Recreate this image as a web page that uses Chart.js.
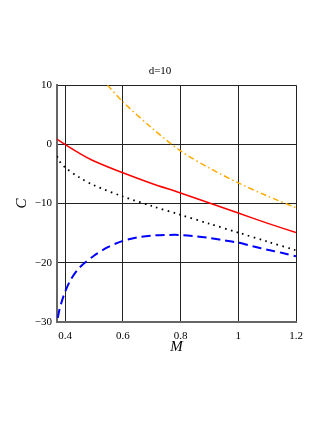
<!DOCTYPE html>
<html>
<head>
<meta charset="utf-8">
<script src="https://cdn.jsdelivr.net/npm/chart.js@4/dist/chart.umd.min.js"></script>
<style>
  html, body { margin: 0; padding: 0; background: #fff; }
</style>
</head>
<body>
<canvas id="chart" width="327" height="423"></canvas>
<script>
// values
let mRed = [0.372, 0.4, 0.45, 0.5, 0.6, 0.7, 0.8, 0.9, 1.0, 1.1, 1.2];
let cRed = [0.9, 0.0, -1.5, -2.8, -4.8, -6.6, -8.2, -9.9, -11.6, -13.3, -14.9];

let mBlack = [0.372, 0.38, 0.4, 0.45, 0.5, 0.6, 0.7, 0.8, 0.9, 1.0, 1.1, 1.2];
let cBlack = [-2.0, -2.8, -3.9, -5.6, -6.9, -8.8, -10.4, -11.9, -13.4, -14.9, -16.4, -17.9];

let mOrange = [0.547, 0.6, 0.7, 0.8, 0.9, 1.0, 1.1, 1.2];
let cOrange = [10, 7.2, 2.8, -1.1, -4.0, -6.5, -8.7, -10.7];

let mBlue = [0.375, 0.38, 0.39, 0.4, 0.42, 0.45, 0.5, 0.55, 0.6, 0.65, 0.7, 0.75, 0.8, 0.85, 0.9, 0.95, 1.0, 1.05, 1.1, 1.15, 1.2];
let cBlue = [-29.3, -28.0, -26.3, -24.9, -22.8, -20.8, -18.8, -17.3, -16.3, -15.7, -15.4, -15.3, -15.3, -15.5, -15.8, -16.2, -16.6, -17.2, -17.8, -18.3, -18.9];

let xTicks = [0.4, 0.6, 0.8, 1.0, 1.2];
let yTicks = [-30, -20, -10, 0, 10];

function pts(xs, ys) {
  return xs.map((x, i) => ({ x: x, y: ys[i] }));
}

let serif = "'Liberation Serif', 'DejaVu Serif', serif";

let data = {
  datasets: [
    {
      label: 'orange',
      data: pts(mOrange, cOrange),
      borderColor: 'rgb(255,170,0)',
      borderWidth: 1.5,
      borderDash: [6, 3, 1.5, 3],
    },
    {
      label: 'red',
      data: pts(mRed, cRed),
      borderColor: 'rgb(255,0,0)',
      borderWidth: 1.5,
    },
    {
      label: 'black',
      data: pts(mBlack, cBlack),
      borderColor: '#000',
      borderWidth: 1.8,
      borderDash: [1.6, 4.4],
    },
    {
      label: 'blue',
      data: pts(mBlue, cBlue),
      borderColor: 'rgb(0,0,255)',
      borderWidth: 2,
      borderDash: [9, 5],
    },
  ],
};

let options = {
  responsive: false,
  animation: false,
  showLine: true,
  elements: {
    point: { radius: 0 },
    line: { tension: 0.3, fill: false },
  },
  layout: {
    padding: { left: 24, right: 31, top: 0, bottom: 63 },
  },
  plugins: {
    legend: { display: false },
    tooltip: { enabled: false },
    title: {
      display: true,
      text: 'd=10',
      color: '#000',
      font: { family: serif, size: 11, weight: 'normal' },
      padding: { top: 65, bottom: 7 },
    },
  },
  scales: {
    x: {
      type: 'linear',
      min: 0.372,
      max: 1.2,
      afterBuildTicks: (axis) => {
        axis.ticks = xTicks.map((v) => ({ value: v }));
      },
      afterFit: (axis) => {
        axis.height = 38;
      },
      ticks: {
        color: '#000',
        padding: 8,
        maxRotation: 0,
        font: { family: serif, size: 11 },
        callback: (v) => String(+(+v).toFixed(1)),
      },
      grid: { color: '#222', lineWidth: 1, drawTicks: false },
      border: { color: '#666', width: 2 },
      title: {
        display: true,
        text: 'M',
        color: '#000',
        padding: { top: 4, bottom: 4 },
        font: { family: serif, size: 15, style: 'italic' },
      },
    },
    y: {
      type: 'linear',
      min: -30,
      max: 10,
      afterBuildTicks: (axis) => {
        axis.ticks = yTicks.map((v) => ({ value: v }));
      },
      afterFit: (axis) => {
        axis.width = 33;
      },
      ticks: {
        color: '#000',
        padding: 5,
        font: { family: serif, size: 11 },
        callback: (v) => (v < 0 ? '\u2212' + Math.abs(v) : String(v)),
      },
      grid: { color: '#222', lineWidth: 1, drawTicks: false },
      border: { color: '#666', width: 2 },
      title: {
        display: true,
        text: 'C',
        color: '#000',
        padding: { top: -11, bottom: 0 },
        font: { family: serif, size: 15, style: 'italic' },
      },
    },
  },
};

let ctx = document.getElementById('chart');
var chart = new Chart(ctx, {
  type: 'scatter',
  data: data,
  options: options,
});
</script>
</body>
</html>
